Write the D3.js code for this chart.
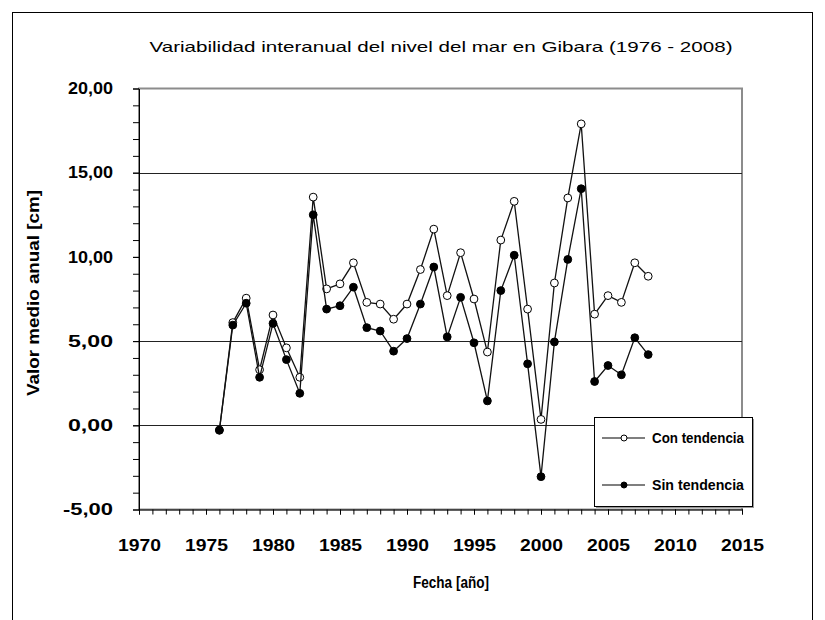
<!DOCTYPE html>
<html>
<head>
<meta charset="utf-8">
<script src="https://cdn.jsdelivr.net/npm/d3@7"></script>
<style>
  html, body { margin: 0; padding: 0; background: #fff; }
  svg text { font-family: 'Liberation Sans', Arial, sans-serif; fill: #000; }
</style>
</head>
<body>
<div id="chart"></div>
<script>
(function(){ 'use strict';

    // years and the two annual mean series (cm)
    var years = [1976, 1977, 1978, 1979, 1980, 1981, 1982, 1983, 1984, 1985, 1986,
        1987, 1988, 1989, 1990, 1991, 1992, 1993, 1994, 1995, 1996, 1997,
        1998, 1999, 2000, 2001, 2002, 2003, 2004, 2005, 2006, 2007, 2008];
    var conTendencia = [-0.3, 6.1, 7.55, 3.3, 6.55, 4.6, 2.85, 13.55, 8.1, 8.4, 9.65,
        7.3, 7.2, 6.3, 7.2, 9.25, 11.65, 7.7, 10.25, 7.5, 4.35, 11.0,
        13.3, 6.9, 0.35, 8.45, 13.5, 17.9, 6.6, 7.7, 7.3, 9.65, 8.85];
    var sinTendencia = [-0.28, 5.95, 7.25, 2.85, 6.05, 3.9, 1.9, 12.5, 6.9, 7.1, 8.2,
        5.8, 5.6, 4.4, 5.15, 7.2, 9.4, 5.25, 7.6, 4.9, 1.45, 8.0,
        10.1, 3.65, -3.05, 4.95, 9.85, 14.05, 2.6, 3.55, 3.0, 5.2, 4.2];

    var xTicks = [1970, 1975, 1980, 1985, 1990, 1995, 2000, 2005, 2010, 2015];
    var yTicks = [-5, 0, 5, 10, 15, 20];
    var gridValues = [0, 5, 15];
    var seriesNames = ['Con tendencia', 'Sin tendencia'];

    var width = 825,
        height = 620;
    var plot = { left: 139, right: 742, top: 88.5, bottom: 509.5 };

    var svg = d3.select('#chart').append('svg')
        .attr('width', width).attr('height', height);

    // outer chart frame (bottom runs off the page)
    svg.append('rect')
        .attr('x', 12.5).attr('y', 12.5)
        .attr('width', 800).attr('height', 700)
        .attr('fill', 'none').attr('stroke', '#000').attr('stroke-width', 1);

    var x = d3.scaleLinear().domain([1970, 2015]).range([plot.left, plot.right]);
    var y = d3.scaleLinear().domain([-5, 20]).range([plot.bottom, plot.top]);

    // plot area border
    svg.append('rect')
        .attr('x', plot.left).attr('y', plot.top)
        .attr('width', plot.right - plot.left).attr('height', plot.bottom - plot.top)
        .attr('fill', '#fff').attr('stroke', '#8c8c8c').attr('stroke-width', 2);

    svg.append('g').selectAll('line.grid')
        .data(gridValues).enter().append('line')
            .attr('class', 'grid')
            .attr('x1', plot.left).attr('x2', plot.right)
            .attr('y1', function(d){ return Math.round(y(d)) + 0.5; })
            .attr('y2', function(d){ return Math.round(y(d)) + 0.5; })
            .attr('stroke', '#222').attr('stroke-width', 1.2);

    // y axis: minor ticks each unit, labels every 5 (comma decimals, plain hyphen)
    var locale = d3.formatLocale({ decimal: ',', thousands: '.', grouping: [3], currency: ['', ''], minus: '-' });
    var fmt = locale.format('.2f');
    svg.append('g')
        .attr('transform', 'translate(' + plot.left + ',0)')
        .call(d3.axisLeft(y).tickValues(d3.range(-5, 21, 1)).tickSize(6).tickSizeOuter(0).tickFormat(''))
        .call(function(g){ g.selectAll('line').attr('stroke', '#000'); g.select('.domain').attr('stroke', '#000'); });
    svg.append('g')
        .attr('transform', 'translate(' + plot.left + ',0)')
        .call(d3.axisLeft(y).tickValues(yTicks).tickSize(6).tickPadding(20).tickFormat(fmt))
        .call(function(g){
            g.select('.domain').remove();
            g.selectAll('line').attr('stroke', '#000');
            g.selectAll('text').style('font-size', '16px').style('font-weight', 'bold')
                .attr('textLength', function(d){ return d < 0 ? 50 : 45; })
                .attr('lengthAdjust', 'spacingAndGlyphs');
        });

    // x axis: a tick per year, labels every 5
    svg.append('g')
        .attr('transform', 'translate(0,' + plot.bottom + ')')
        .call(d3.axisBottom(x).tickValues(d3.range(1970, 2016, 1)).tickSize(5).tickSizeOuter(0).tickFormat(''))
        .call(function(g){ g.selectAll('line').attr('stroke', '#000'); g.select('.domain').attr('stroke', '#000'); });
    svg.append('g')
        .attr('transform', 'translate(0,' + plot.bottom + ')')
        .call(d3.axisBottom(x).tickValues(xTicks).tickSize(5).tickPadding(24).tickFormat(d3.format('d')))
        .call(function(g){
            g.select('.domain').remove();
            g.selectAll('line').attr('stroke', '#000');
            g.selectAll('text').style('font-size', '17px').style('font-weight', 'bold')
                .attr('textLength', 43).attr('lengthAdjust', 'spacingAndGlyphs');
        });

    // titles
    svg.append('text')
        .attr('x', 441).attr('y', 52)
        .attr('text-anchor', 'middle')
        .attr('textLength', 583).attr('lengthAdjust', 'spacingAndGlyphs')
        .style('font-size', '15px')
        .text('Variabilidad interanual del nivel del mar en Gibara (1976 - 2008)');
    svg.append('text')
        .attr('x', 451).attr('y', 588)
        .attr('text-anchor', 'middle')
        .attr('textLength', 76).attr('lengthAdjust', 'spacingAndGlyphs')
        .style('font-size', '16px').style('font-weight', 'bold')
        .text('Fecha [año]');
    svg.append('text')
        .attr('transform', 'translate(39,293)rotate(-90)')
        .attr('text-anchor', 'middle')
        .attr('textLength', 206).attr('lengthAdjust', 'spacingAndGlyphs')
        .style('font-size', '16px').style('font-weight', 'bold')
        .text('Valor medio anual [cm]');

    // series
    var line = d3.line()
        .x(function(d){ return x(d[0]); })
        .y(function(d){ return y(d[1]); });
    var seriesData = [
        { name: seriesNames[0], fill: '#fff', values: d3.zip(years, conTendencia) },
        { name: seriesNames[1], fill: '#000', values: d3.zip(years, sinTendencia) }
    ];

    var series = svg.selectAll('g.series')
        .data(seriesData).enter().append('g')
            .attr('class', 'series');
    series.append('path')
        .attr('d', function(d){ return line(d.values); })
        .attr('fill', 'none').attr('stroke', '#111').attr('stroke-width', 1.3);
    series.selectAll('circle')
        .data(function(d){ return d.values.map(function(v){ return { v: v, fill: d.fill }; }); })
        .enter().append('circle')
            .attr('cx', function(d){ return x(d.v[0]); })
            .attr('cy', function(d){ return y(d.v[1]); })
            .attr('r', 3.9)
            .attr('fill', function(d){ return d.fill; })
            .attr('stroke', '#000').attr('stroke-width', 1);

    // legend
    var legend = svg.append('g').attr('transform', 'translate(594,417)');
    legend.append('rect')
        .attr('x', 2).attr('y', 2).attr('width', 158).attr('height', 89)
        .attr('fill', '#999');
    legend.append('rect')
        .attr('x', 0.5).attr('y', 0.5).attr('width', 158).attr('height', 89)
        .attr('fill', '#fff').attr('stroke', '#000').attr('stroke-width', 1);
    var items = legend.selectAll('g.item')
        .data(seriesData).enter().append('g')
            .attr('class', 'item')
            .attr('transform', function(d, i){ return 'translate(0,' + (21 + i*47) + ')'; });
    items.append('line')
        .attr('x1', 8).attr('x2', 51)
        .attr('stroke', '#000').attr('stroke-width', 1.2);
    items.append('circle')
        .attr('cx', 30).attr('r', 3)
        .attr('fill', function(d){ return d.fill; })
        .attr('stroke', '#000').attr('stroke-width', 1);
    items.append('text')
        .attr('x', 58).attr('y', 5)
        .attr('textLength', 92).attr('lengthAdjust', 'spacingAndGlyphs')
        .style('font-size', '15px').style('font-weight', 'bold')
        .text(function(d){ return d.name; });

})();
</script>
</body>
</html>
